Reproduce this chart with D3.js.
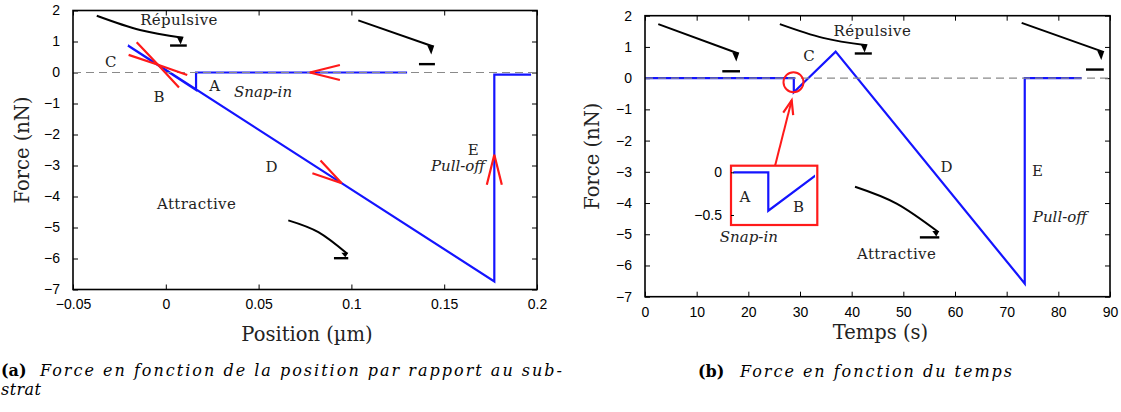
<!DOCTYPE html>
<html>
<head>
<meta charset="utf-8">
<script src="https://cdn.jsdelivr.net/npm/d3@7"></script>
<style>
  body { margin: 0; background: #fff; }
  svg { display: block; }
  .tick text { font-family: "Liberation Sans", Arial, sans-serif; font-size: 14px; fill: #000; }
  .tick line { stroke: #000; }
  .lab { font-family: "DejaVu Serif", serif; fill: #222; }
</style>
</head>
<body>
<div id="chart"></div>
<script>
// (a) force vs position of the tip
const positionA = [0.13, 0.0163, 0.0163, -0.0204, 0.177, 0.177, 0.1968];
const forceA    = [0, 0, -0.56, 0.87, -6.74, -0.07, -0.07];

// (b) force vs time
const timeB  = [0, 28.8, 28.8, 36.9, 73.5, 73.5, 84.5];
const forceB = [0, 0, -0.45, 0.85, -6.58, 0, 0];

const xTicksA = [-0.05, 0, 0.05, 0.1, 0.15, 0.2];
const xTicksB = [0, 10, 20, 30, 40, 50, 60, 70, 80, 90];
const yTicks  = [2, 1, 0, -1, -2, -3, -4, -5, -6, -7];
const insetTicks = [0, -0.5];

// red direction arrows: tip x, tip F, coming-from x, coming-from F
const arrowsA = [
  [0.0776, 0, 0.13, 0],
  [-0.0042, 0.25, 0.0163, -0.56],
  [-0.0042, 0.25, -0.0204, 0.87],
  [0.0948, -3.57, -0.0204, 0.87],
  [0.177, -2.65, 0.177, -6.74]
];

// text labels: text, x, F, italic
const labelsA = [
  ["Répulsive", 0.0071, 1.70, false],
  ["C", -0.0295, 0.345, false],
  ["B", -0.0035, -0.77, false],
  ["A", 0.0265, -0.43, false],
  ["Snap-in", 0.0524, -0.62, true],
  ["D", 0.0571, -3.03, false],
  ["E", 0.1657, -2.49, false],
  ["Pull-off", 0.1574, -3.0, true],
  ["Attractive", 0.0166, -4.24, false]
];
const labelsB = [
  ["Répulsive", 44.0, 1.53, false],
  ["C", 31.8, 0.73, false],
  ["D", 58.4, -2.84, false],
  ["E", 76.0, -2.95, false],
  ["Pull-off", 80.3, -4.45, true],
  ["Attractive", 48.7, -5.62, false],
  ["Snap-in", 20.1, -5.09, true]
];
const insetLabels = [
  ["A", 27.53, -0.286],
  ["B", 30.45, -0.40]
];

// cantilever sketches: beam points and sample bar [x1, x2, F]
const cantileversA = [
  { beam: [[-0.0372, 1.83], [-0.0139, 1.37], [0.0091, 1.12]], bar: [0.0023, 0.0113, 0.87] },
  { beam: [[0.1037, 1.68], [0.1441, 0.84]], bar: [0.1364, 0.1450, 0.27] },
  { beam: [[0.066, -4.77], [0.0822, -5.15], [0.0978, -5.85]], bar: [0.0906, 0.0983, -5.99] }
];
const cantileversB = [
  { beam: [[2.57, 1.73], [18.06, 0.79]], bar: [14.96, 18.39, 0.22] },
  { beam: [[26.1, 1.73], [34.45, 1.29], [42.9, 1.05]], bar: [40.6, 43.9, 0.79] },
  { beam: [[72.9, 1.77], [88.7, 0.84]], bar: [85.35, 88.8, 0.275] },
  { beam: [[40.65, -3.48], [48.7, -4.02], [56.77, -4.93]], bar: [53.2, 56.96, -5.1] }
];

// zoom window of the inset and the pointer to it
const insetTime = [26.89, 31.35];
const insetForce = [-0.5, 0];
const zoomCircle = [28.74, -0.13];
const pointer = [[25.16, -2.81], [28.39, -0.708]];

const BLUE = "#1414ff", RED = "#ff1a1a";

const svg = d3.select("#chart").append("svg")
  .attr("width", 1121).attr("height", 412);

function chevron(g, tip, from, len, ang) {
  const dx = tip[0] - from[0], dy = tip[1] - from[1];
  const a = Math.atan2(dy, dx) + Math.PI;
  const pts = [a - ang, a + ang].map(t => [tip[0] + len * Math.cos(t), tip[1] + len * Math.sin(t)]);
  g.append("path")
    .attr("d", `M${pts[0]}L${tip}L${pts[1]}`)
    .attr("fill", "none").attr("stroke", RED)
    .attr("stroke-width", 2.2).attr("stroke-linejoin", "miter");
}

function drawPanel(cfg) {
  const x = d3.scaleLinear().domain(cfg.xDomain).range([cfg.left, cfg.right]);
  const y = d3.scaleLinear().domain([-7, 2]).range([cfg.bottom, cfg.top]);
  const g = svg.append("g");

  // axes with inward ticks on all four sides
  const noLab = () => "";
  g.append("g").attr("transform", `translate(0,${cfg.bottom})`)
    .call(d3.axisBottom(x).tickValues(cfg.xTicks).tickFormat(d3.format("~g"))
      .tickSize(-5).tickSizeOuter(0).tickPadding(cfg.xPad))
    .call(a => a.select(".domain").remove());
  g.append("g").attr("transform", `translate(0,${cfg.top})`)
    .call(d3.axisTop(x).tickValues(cfg.xTicks).tickFormat(noLab).tickSize(-5).tickSizeOuter(0))
    .call(a => a.select(".domain").remove());
  g.append("g").attr("transform", `translate(${cfg.left},0)`)
    .call(d3.axisLeft(y).tickValues(yTicks).tickFormat(d3.format("~g"))
      .tickSize(-5).tickSizeOuter(0).tickPadding(13))
    .call(a => a.select(".domain").remove());
  g.append("g").attr("transform", `translate(${cfg.right},0)`)
    .call(d3.axisRight(y).tickValues(yTicks).tickFormat(noLab).tickSize(-5).tickSizeOuter(0))
    .call(a => a.select(".domain").remove());

  // cantilever sketches
  cfg.cantilevers.forEach(c => {
    const line = d3.line().x(d => x(d[0])).y(d => y(d[1]))
      .curve(c.beam.length > 2 ? d3.curveNatural : d3.curveLinear);
    g.append("path").attr("d", line(c.beam))
      .attr("fill", "none").attr("stroke", "#000").attr("stroke-width", 2);
    const e = c.beam[c.beam.length - 1];
    const ex = x(e[0]), ey = y(e[1]);
    const by = y(c.bar[2]);
    const h = Math.max(3, Math.min(8, by - ey - 1));
    g.append("path")
      .attr("d", `M${ex - 6},${ey - 1}L${ex + 1},${ey - 1}L${ex - 2},${ey + h}Z`)
      .attr("fill", "#000");
    g.append("line")
      .attr("x1", x(c.bar[0])).attr("x2", x(c.bar[1]))
      .attr("y1", by).attr("y2", by)
      .attr("stroke", "#000").attr("stroke-width", 2.4);
  });

  // force curve
  g.append("path")
    .datum(d3.zip(cfg.xs, cfg.fs))
    .attr("d", d3.line().x(d => x(d[0])).y(d => y(d[1])))
    .attr("fill", "none").attr("stroke", BLUE).attr("stroke-width", 2.2);

  // zero line
  g.append("line")
    .attr("x1", cfg.left).attr("x2", cfg.right)
    .attr("y1", y(0)).attr("y2", y(0))
    .attr("stroke", "#8a8a8a").attr("stroke-width", 1.2).attr("stroke-dasharray", "8,5");

  // frame
  g.append("rect")
    .attr("x", cfg.left).attr("y", cfg.top)
    .attr("width", cfg.right - cfg.left).attr("height", cfg.bottom - cfg.top)
    .attr("fill", "none").attr("stroke", "#000").attr("stroke-width", 1.6);

  (cfg.arrows || []).forEach(d =>
    chevron(g, [x(d[0]), y(d[1])], [x(d[2]), y(d[3])], 31, 14 * Math.PI / 180));

  g.selectAll(".plab").data(cfg.labels).join("text")
    .attr("class", "lab")
    .attr("x", d => x(d[1])).attr("y", d => y(d[2]))
    .attr("dy", "0.35em")
    .attr("text-anchor", "middle")
    .attr("font-size", 15)
    .attr("font-style", d => d[3] ? "italic" : "normal")
    .attr("letter-spacing", d => d[3] ? 0 : 0.4)
    .text(d => d[0]);

  // axis titles
  g.append("text").attr("class", "lab")
    .attr("transform", `translate(${cfg.yTitleX},${(cfg.top + cfg.bottom) / 2}) rotate(-90)`)
    .attr("text-anchor", "middle").attr("dy", "0.35em")
    .attr("font-size", 19.5).text("Force (nN)");
  g.append("text").attr("class", "lab")
    .attr("x", (cfg.left + cfg.right) / 2 + cfg.xTitleShift).attr("y", cfg.xTitleY)
    .attr("text-anchor", "middle")
    .attr("font-size", 19.5).text(cfg.xTitle);

  return { g, x, y };
}

drawPanel({
  xDomain: [-0.05, 0.2], left: 73, right: 537, top: 10.5, bottom: 289.5,
  xTicks: xTicksA, xPad: 10, xs: positionA, fs: forceA,
  arrows: arrowsA, labels: labelsA, cantilevers: cantileversA,
  yTitleX: 22, xTitle: "Position (\u00b5m)", xTitleY: 341, xTitleShift: 2
});

const pb = drawPanel({
  xDomain: [0, 90], left: 645, right: 1110, top: 15.7, bottom: 296.7,
  xTicks: xTicksB, xPad: 10, xs: timeB, fs: forceB,
  labels: labelsB, cantilevers: cantileversB,
  yTitleX: 592, xTitle: "Temps (s)", xTitleY: 339, xTitleShift: 3
});

// zoom circle and pointer
pb.g.append("circle")
  .attr("cx", pb.x(zoomCircle[0])).attr("cy", pb.y(zoomCircle[1])).attr("r", 10)
  .attr("fill", "none").attr("stroke", RED).attr("stroke-width", 2);
const pTail = [pb.x(pointer[0][0]), pb.y(pointer[0][1])];
const pTip = [pb.x(pointer[1][0]), pb.y(pointer[1][1])];
pb.g.append("line")
  .attr("x1", pTail[0]).attr("y1", pTail[1]).attr("x2", pTip[0]).attr("y2", pTip[1])
  .attr("stroke", RED).attr("stroke-width", 2);
chevron(pb.g, pTip, pTail, 15, 20 * Math.PI / 180);

// inset
const ix = d3.scaleLinear().domain(insetTime).range([733.3, 815]);
const iy = d3.scaleLinear().domain(insetForce).range([215, 172.3]);
const inset = svg.append("g");
inset.append("rect")
  .attr("x", 731).attr("y", 165.7).attr("width", 86.3).attr("height", 59.3)
  .attr("fill", "#fff").attr("stroke", RED).attr("stroke-width", 2.2);
inset.append("clipPath").attr("id", "insetClip")
  .append("rect").attr("x", ix.range()[0]).attr("y", 166).attr("width", ix.range()[1] - ix.range()[0]).attr("height", 58);
inset.append("path")
  .datum(d3.zip(timeB, forceB))
  .attr("clip-path", "url(#insetClip)")
  .attr("d", d3.line().x(d => ix(d[0])).y(d => iy(d[1])))
  .attr("fill", "none").attr("stroke", BLUE).attr("stroke-width", 2.2);
inset.append("g").attr("transform", "translate(731,0)")
  .call(d3.axisLeft(iy).tickValues(insetTicks).tickFormat(d3.format("~g"))
    .tickSize(-3).tickSizeOuter(0).tickPadding(9))
  .call(a => a.select(".domain").remove());
inset.selectAll(".ilab").data(insetLabels).join("text")
  .attr("class", "lab")
  .attr("x", d => ix(d[1])).attr("y", d => iy(d[2]))
  .attr("dy", "0.35em").attr("text-anchor", "middle")
  .attr("font-size", 15).text(d => d[0]);

// captions
function caption(tag, x, y, body, bodyX, bodyLen) {
  svg.append("text").attr("class", "lab")
    .attr("x", x).attr("y", y).attr("font-size", 16).attr("font-weight", "bold")
    .style("fill", "#000").text(tag);
  svg.append("text").attr("class", "lab")
    .attr("x", bodyX).attr("y", y).attr("font-size", 16).attr("font-style", "italic")
    .attr("textLength", bodyLen).attr("lengthAdjust", "spacing")
    .style("fill", "#000").text(body);
}
caption("(a)", 1, 376, "Force en fonction de la position par rapport au sub-", 40, 522);
svg.append("text").attr("class", "lab")
  .attr("x", 1).attr("y", 395).attr("font-size", 16).attr("font-style", "italic")
  .attr("textLength", 40).attr("lengthAdjust", "spacing")
  .style("fill", "#000").text("strat");
caption("(b)", 698, 377, "Force en fonction du temps", 740, 272);
</script>
</body>
</html>
